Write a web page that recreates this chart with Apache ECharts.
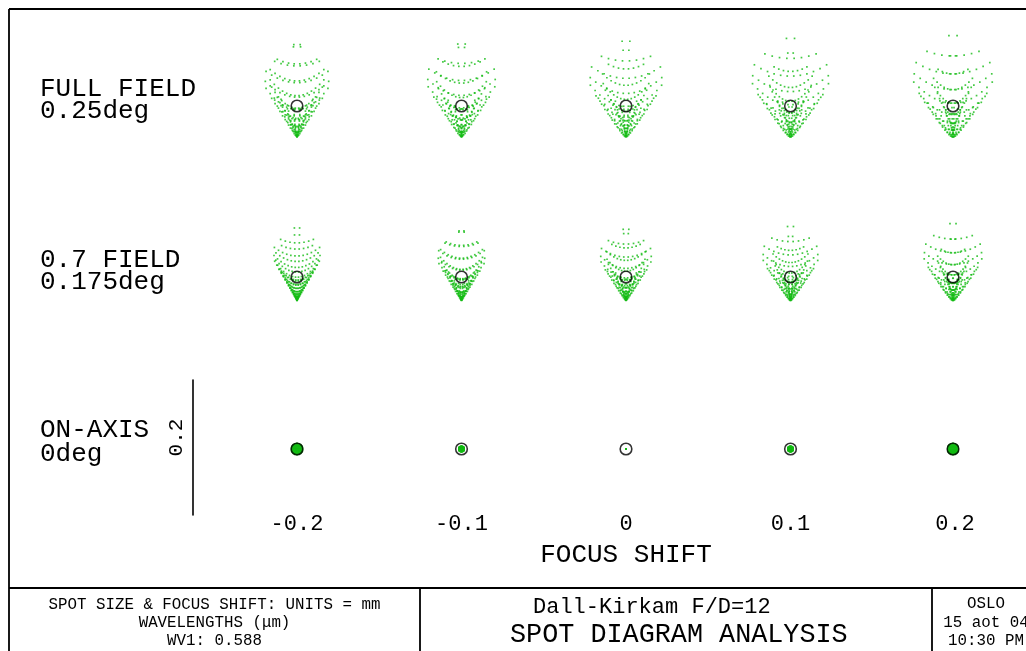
<!DOCTYPE html>
<html><head><meta charset="utf-8">
<script src="https://cdn.jsdelivr.net/npm/echarts@6/dist/echarts.min.js"></script>
<style>html,body{margin:0;padding:0;background:#fff}#chart{width:1026px;height:651px}</style>
</head><body><div id="chart"></div>
<script>
// ---- data ----
const focusShifts = [-0.2, -0.1, 0, 0.1, 0.2];          // mm
const focusTickLabels = ['-0.2', '-0.1', '0', '0.1', '0.2'];
const fieldNames = ['FULL FIELD', '0.7 FIELD', 'ON-AXIS'];
const fieldAngles = ['0.25deg', '0.175deg', '0deg'];
const comaMm = [0.045, 0.034, 0];          // sagittal coma (spot flare / 3)
const sagFocusMm = [-0.32, -0.155, 0];     // sagittal focus of each field
const tanFocusMm = [-0.16, -0.076, 0];     // tangential focus of each field
const scaleBarMm = 0.2;
const fNumber = 12;
const wavelengthUm = 0.588;
const pupilDivisions = 9;
const infoLines = ['SPOT SIZE & FOCUS SHIFT: UNITS = mm', 'WAVELENGTHS (\u03bcm)', 'WV1: ' + wavelengthUm.toFixed(3)];
const titleLines = ['Dall-Kirkam F/D=12', 'SPOT DIAGRAM ANALYSIS'];
const stampLines = ['OSLO', '15 aot 04', '10:30 PM'];

// ---- ray intercepts (rectangular pupil grid through coma + astigmatic defocus) ----
function pupilGrid(n) {
  const pts = [];
  for (let k = -n; k <= n; k++) {
    const py = k / n;
    for (let j = -n; j < n; j++) {
      const px = (j + 0.5) / n;
      if (px * px + py * py <= 1 + 0.25 / (n * n) + 1e-9) pts.push([px, py]);
    }
  }
  return pts;
}
const pupil = pupilGrid(pupilDivisions);
function spot(f, z) {
  const C = comaMm[f];
  const Ds = (z - sagFocusMm[f]) / (2 * fNumber);
  const Dt = (z - tanFocusMm[f]) / (2 * fNumber);
  const raw = pupil.map(([px, py]) => [2 * C * px * py + Ds * px, C * (px * px + 3 * py * py) + Dt * py]);
  let mx = 0, my = 0;
  raw.forEach(p => { mx += p[0]; my += p[1]; });
  mx /= raw.length; my /= raw.length;
  return raw.map(p => [p[0] - mx, p[1] - my]);
}
const airyRadiusMm = 1.22 * wavelengthUm / 1000 * fNumber;

// ---- layout ----
const FONT = '"Liberation Mono", "DejaVu Sans Mono", monospace';
const focusMin = -0.2, focusMax = 0.2;
const focusLeft = 297, focusWidth = 658;
const rowCenterY = [106, 277, 449];
const pxPerMmSpot = 675;
const spotBox = 150;
const spotHalfMm = spotBox / 2 / pxPerMmSpot;
const colX = z => focusLeft + (z - focusMin) / (focusMax - focusMin) * focusWidth;

const grids = [], xAxes = [], yAxes = [], series = [];
// focus-shift axis
grids.push({ left: focusLeft, width: focusWidth, top: 20, height: 485 });
xAxes.push({
  gridIndex: 0, type: 'value', min: focusMin, max: focusMax, interval: 0.1,
  axisLine: { show: false }, axisTick: { show: false }, splitLine: { show: false },
  axisLabel: {
    margin: 8, fontSize: 22, fontFamily: FONT, color: '#000',
    formatter: v => { const i = focusShifts.findIndex(s => Math.abs(s - v) < 1e-9); return i >= 0 ? focusTickLabels[i] : ''; }
  },
  name: 'FOCUS SHIFT', nameLocation: 'middle', nameGap: 37,
  nameTextStyle: { fontSize: 26, fontFamily: FONT, color: '#000' }
});
yAxes.push({ gridIndex: 0, type: 'value', min: 0, max: 1, show: false });
// scale bar
const barH = scaleBarMm * pxPerMmSpot;
grids.push({ left: 193, width: 10, top: rowCenterY[2] - barH / 2 - 1.5, height: barH });
xAxes.push({ gridIndex: 1, type: 'value', show: false, min: 0, max: 1 });
yAxes.push({
  gridIndex: 1, type: 'value', min: 0, max: scaleBarMm,
  axisLine: { show: true, lineStyle: { color: '#000', width: 1.6 } },
  axisTick: { show: false }, axisLabel: { show: false }, splitLine: { show: false }
});
// spot diagrams
fieldNames.forEach((fn, f) => {
  focusShifts.forEach((z, s) => {
    const gi = grids.length;
    const cx = colX(z), cy = rowCenterY[f];
    grids.push({ left: cx - spotBox / 2, top: cy - spotBox / 2, width: spotBox, height: spotBox });
    xAxes.push({ gridIndex: gi, type: 'value', min: -spotHalfMm, max: spotHalfMm, show: false });
    yAxes.push({ gridIndex: gi, type: 'value', min: -spotHalfMm, max: spotHalfMm, show: false });
    series.push({
      type: 'scatter', xAxisIndex: gi, yAxisIndex: gi, data: spot(f, z),
      symbol: 'rect', symbolSize: 1.7, itemStyle: { color: '#14bb14' }, silent: true, z: 2
    });
    series.push({
      type: 'scatter', xAxisIndex: gi, yAxisIndex: gi, data: [[0, 0]],
      symbol: 'circle', symbolSize: 2 * airyRadiusMm * pxPerMmSpot,
      itemStyle: { color: 'rgba(0,0,0,0)', borderColor: '#000', borderWidth: 1.6 }, silent: true, z: 3
    });
  });
});

// ---- text and frame ----
const graphic = [];
const txt = (text, x, y, size, align, rotation) => ({
  type: 'text', x, y, rotation: rotation || 0, silent: true,
  style: { text, font: size + 'px ' + FONT, fill: '#000', align: align || 'left', verticalAlign: 'middle' }
});
const line = (x1, y1, x2, y2) => ({
  type: 'line', silent: true, shape: { x1, y1, x2, y2 }, style: { stroke: '#000', lineWidth: 1.8 }
});
const labelY1 = [89, 260, 430], labelY2 = [111, 282.5, 454];
fieldNames.forEach((n, f) => {
  graphic.push(txt(n, 40, labelY1[f], 26));
  graphic.push(txt(fieldAngles[f], 40, labelY2[f], 26));
});
graphic.push(txt(String(scaleBarMm), 176, 437.5, 21, 'center', Math.PI / 2));
const infoY = [605, 623, 641];
infoLines.forEach((t, i) => graphic.push(txt(t, 214.5, infoY[i], 15.8, 'center')));
graphic.push(txt(titleLines[0], 533, 607, 22));
graphic.push(txt(titleLines[1], 510, 635, 26.8));
const stampY = [604, 623, 641];
stampLines.forEach((t, i) => graphic.push(txt(t, 986, stampY[i], 15.8, 'center')));
graphic.push(line(9, 9, 9, 651));
graphic.push(line(9, 9, 1026, 9));
graphic.push(line(9, 588, 1026, 588));
graphic.push(line(420, 588, 420, 651));
graphic.push(line(932, 588, 932, 651));

const chart = echarts.init(document.getElementById('chart'), null, { renderer: 'canvas' });
chart.setOption({
  animation: false, backgroundColor: '#fff',
  grid: grids, xAxis: xAxes, yAxis: yAxes, series, graphic
});
</script></body></html>
